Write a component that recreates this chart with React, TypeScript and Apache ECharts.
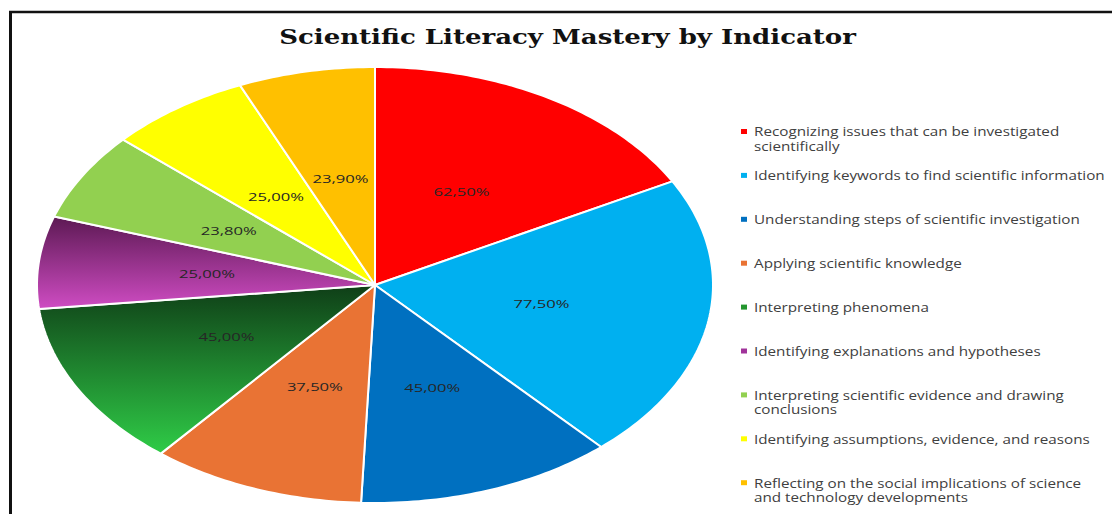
import React, { useEffect, useRef } from "react";
import * as echarts from "echarts";

const titleText = "Scientific Literacy Mastery by Indicator";

const categories = [
  "Recognizing issues that can be investigated scientifically",
  "Identifying keywords to find scientific information",
  "Understanding steps of scientific investigation",
  "Applying scientific knowledge",
  "Interpreting phenomena",
  "Identifying explanations and hypotheses",
  "Interpreting scientific evidence and drawing conclusions",
  "Identifying assumptions, evidence, and reasons",
  "Reflecting on the social implications of science and technology developments",
];

const legendLines = [
  "Recognizing issues that can be investigated\nscientifically",
  "Identifying keywords to find scientific information",
  "Understanding steps of scientific investigation",
  "Applying scientific knowledge",
  "Interpreting phenomena",
  "Identifying explanations and hypotheses",
  "Interpreting scientific evidence and drawing\nconclusions",
  "Identifying assumptions, evidence, and reasons",
  "Reflecting on the social implications of science\nand technology developments",
];

const values = [62.5, 77.5, 45.0, 37.5, 45.0, 25.0, 23.8, 25.0, 23.9];

const sliceColors = [
  "#FF0000",
  "#00B0F0",
  "#0070C0",
  "#E97334",
  "gradient:#0F3E17:#2FCC47",
  "gradient:#5C1953:#CF4CC3",
  "#92D050",
  "#FFFF00",
  "#FFC000",
];

const legendColors = [
  "#FF0000",
  "#00B0F0",
  "#0070C0",
  "#E97334",
  "#23962F",
  "#A0339A",
  "#92D050",
  "#FFFF00",
  "#FFC000",
];

const CX = 375;
const CY = 285;
const RX = 338;
const RY = 218;

function measure(text: string, font: string): number {
  const ctx = document.createElement("canvas").getContext("2d");
  if (!ctx) return 1;
  ctx.font = font;
  return ctx.measureText(text).width || 1;
}

function fillFor(spec: string): any {
  if (spec.startsWith("gradient:")) {
    const [, top, bottom] = spec.split(":");
    return new echarts.graphic.LinearGradient(0, 0, 0, 1, [
      { offset: 0, color: top },
      { offset: 1, color: bottom },
    ]);
  }
  return spec;
}

function fmt(v: number): string {
  return v.toFixed(2).replace(".", ",") + "%";
}

export default function App() {
  const ref = useRef<HTMLDivElement>(null);

  useEffect(() => {
    if (!ref.current) return;
    const chart = echarts.init(ref.current, undefined, { renderer: "svg" });

    const titleFont = 'bold 20px "DejaVu Serif"';
    const titleScale = 577 / measure(titleText, titleFont);
    const labelFont = '11.5px "Open Sans"';
    const labelScale = 56 / measure("77,50%", labelFont);
    const legendFont = '12px "Open Sans"';
    const legendScale = 351 / measure(legendLines[1], legendFont);

    const total = values.reduce((a, b) => a + b, 0);

    const legendElems: any[] = [];
    legendLines.forEach((txt, i) => {
      const yc = 131.5 + i * 43.9;
      legendElems.push({
        type: "rect",
        x: 741,
        y: yc - 2.5,
        shape: { x: 0, y: 0, width: 6, height: 5 },
        style: { fill: legendColors[i] },
        silent: true,
      });
      legendElems.push({
        type: "text",
        x: 754,
        y: yc - 7.25,
        scaleX: legendScale,
        style: {
          text: txt,
          fill: "#404040",
          font: legendFont,
          lineHeight: 14.5,
          align: "left",
          verticalAlign: "top",
        },
        silent: true,
      });
    });

    chart.setOption({
      animation: false,
      backgroundColor: "#ffffff",
      graphic: [
        {
          type: "line",
          shape: { x1: 10.5, y1: 11, x2: 10.5, y2: 514 },
          style: { stroke: "#111111", lineWidth: 3 },
          silent: true,
        },
        {
          type: "line",
          shape: { x1: 9, y1: 12, x2: 1112, y2: 12 },
          style: { stroke: "#111111", lineWidth: 2.5 },
          silent: true,
        },
        {
          type: "text",
          x: 567.5,
          y: 37,
          scaleX: titleScale,
          style: {
            text: titleText,
            fill: "#111111",
            font: titleFont,
            align: "center",
            verticalAlign: "middle",
          },
          silent: true,
        },
        ...legendElems,
      ],
      series: [
        {
          type: "custom",
          name: "Mastery",
          coordinateSystem: "none",
          data: values.map((v, i) => ({ name: categories[i], value: [v] })),
          renderItem: (params: any, api: any) => {
            const i = params.dataIndex;
            let before = 0;
            for (let k = 0; k < i; k++) before += values[k];
            const v = api.value(0);
            const a0 = (before / total) * Math.PI * 2;
            const a1 = ((before + v) / total) * Math.PI * 2;
            const n = Math.max(4, Math.ceil((a1 - a0) / (Math.PI / 180)));
            const pts: number[][] = [[CX, CY]];
            for (let s = 0; s <= n; s++) {
              const t = a0 + ((a1 - a0) * s) / n;
              pts.push([CX + RX * Math.sin(t), CY - RY * Math.cos(t)]);
            }
            const am = (a0 + a1) / 2;
            return {
              type: "group",
              children: [
                {
                  type: "polygon",
                  shape: { points: pts },
                  style: {
                    fill: fillFor(sliceColors[i]),
                    stroke: "#ffffff",
                    lineWidth: 2,
                    lineJoin: "round",
                  },
                },
                {
                  type: "text",
                  x: CX + RX * 0.5 * Math.sin(am),
                  y: CY - RY * 0.5 * Math.cos(am),
                  scaleX: labelScale,
                  z2: 10,
                  style: {
                    text: fmt(v),
                    fill: "#262626",
                    font: labelFont,
                    align: "center",
                    verticalAlign: "middle",
                  },
                },
              ],
            };
          },
        },
      ],
    });

    return () => {
      chart.dispose();
    };
  }, []);

  return (
    <div
      ref={ref}
      style={{
        position: "fixed",
        left: 0,
        top: 0,
        width: 1112,
        height: 514,
        background: "#ffffff",
      }}
    />
  );
}
